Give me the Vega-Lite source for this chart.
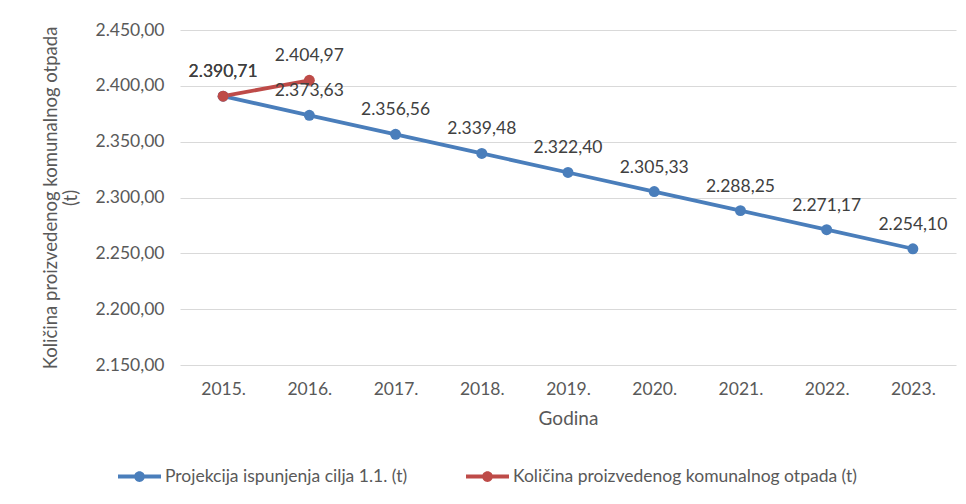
{
  "$schema": "https://vega.github.io/schema/vega-lite/v6.json",
  "width": 776,
  "height": 335,
  "autosize": "none",
  "padding": {"left": 180, "top": 30, "right": 10, "bottom": 139},
  "config": {
    "locale": {"number": {"decimal": ",", "thousands": ".", "grouping": [3], "currency": ["", ""]}},
    "view": {"stroke": null},
    "font": "Lato",
    "axis": {"labelFont": "Lato", "titleFont": "Lato", "labelColor": "#595959", "titleColor": "#595959", "titleFontWeight": "normal"},
    "legend": {"labelFont": "Lato", "labelColor": "#595959"}
  },
  "datasets": {
    "main": [
      {"godina": "2015.", "serija": "Projekcija ispunjenja cilja 1.1. (t)", "vrijednost": 2390.71},
      {"godina": "2016.", "serija": "Projekcija ispunjenja cilja 1.1. (t)", "vrijednost": 2373.63},
      {"godina": "2017.", "serija": "Projekcija ispunjenja cilja 1.1. (t)", "vrijednost": 2356.56},
      {"godina": "2018.", "serija": "Projekcija ispunjenja cilja 1.1. (t)", "vrijednost": 2339.48},
      {"godina": "2019.", "serija": "Projekcija ispunjenja cilja 1.1. (t)", "vrijednost": 2322.40},
      {"godina": "2020.", "serija": "Projekcija ispunjenja cilja 1.1. (t)", "vrijednost": 2305.33},
      {"godina": "2021.", "serija": "Projekcija ispunjenja cilja 1.1. (t)", "vrijednost": 2288.25},
      {"godina": "2022.", "serija": "Projekcija ispunjenja cilja 1.1. (t)", "vrijednost": 2271.17},
      {"godina": "2023.", "serija": "Projekcija ispunjenja cilja 1.1. (t)", "vrijednost": 2254.10},
      {"godina": "2015.", "serija": "Količina proizvedenog komunalnog otpada (t)", "vrijednost": 2390.71},
      {"godina": "2016.", "serija": "Količina proizvedenog komunalnog otpada (t)", "vrijednost": 2404.97}
    ]
  },
  "data": {"name": "main"},
  "encoding": {
    "x": {
      "field": "godina", "type": "ordinal", "sort": null,
      "scale": {"padding": 0.5},
      "axis": {"title": "Godina", "labelAngle": 0, "ticks": false, "domain": false, "grid": false, "labelFontSize": 17.5, "labelPadding": 15, "titleFontSize": 19, "titlePadding": 12}
    },
    "y": {
      "field": "vrijednost", "type": "quantitative",
      "scale": {"domain": [2150, 2450], "zero": false, "nice": false},
      "axis": {
        "title": ["Količina proizvedenog komunalnog otpada", "(t)"],
        "values": [2150, 2200, 2250, 2300, 2350, 2400, 2450],
        "format": ",.2f", "ticks": false, "domain": false, "grid": true, "gridColor": "#d9d9d9", "gridWidth": 1,
        "labelFontSize": 17.5, "labelPadding": 16, "titleFontSize": 18.5, "titlePadding": 14
      }
    }
  },
  "layer": [
    {
      "mark": {"type": "line", "strokeWidth": 3.8},
      "encoding": {
        "color": {
          "field": "serija", "type": "nominal",
          "scale": {"domain": ["Projekcija ispunjenja cilja 1.1. (t)", "Količina proizvedenog komunalnog otpada (t)"], "range": ["#4A7EBB", "#BE4B48"]},
          "legend": {
            "title": null, "orient": "none", "direction": "horizontal", "legendX": -62, "legendY": 425,
            "symbolType": "M-1,-0.09L1,-0.09L1,0.09L-1,0.09Z M-0.25,0A0.25,0.25 0 1,1 0.25,0A0.25,0.25 0 1,1 -0.25,0Z",
            "symbolSize": 1849, "symbolStrokeWidth": 0, "labelFontSize": 17.5, "labelOffset": 4, "columnPadding": 58,
            "labelLimit": 500,
            "encode": {"symbols": {"update": {"fill": {"scale": "color", "field": "value"}, "stroke": {"value": "transparent"}, "opacity": {"value": 1}}}}
          }
        }
      }
    },
    {
      "mark": {"type": "point", "filled": true, "size": 120, "opacity": 1},
      "encoding": {
        "color": {"field": "serija", "type": "nominal", "legend": null}
      }
    },
    {
      "mark": {"type": "text", "dy": -24, "fontSize": 17.5, "color": "#404040", "font": "Lato"},
      "encoding": {
        "text": {"field": "vrijednost", "type": "quantitative", "format": ",.2f"}
      }
    }
  ]
}
